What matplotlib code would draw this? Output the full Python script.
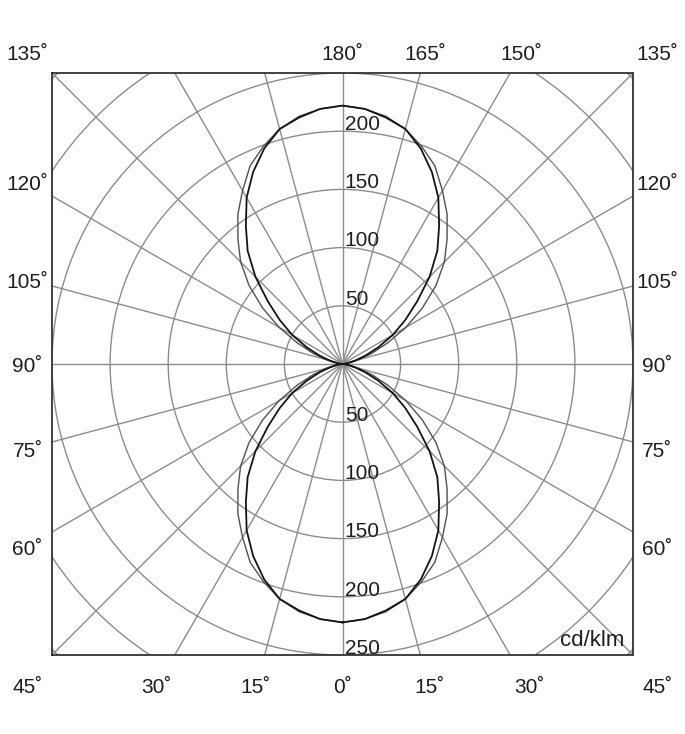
"""Polar luminous intensity diagram (cd/klm), two C-planes, square frame."""
import numpy as np
import matplotlib
matplotlib.use("Agg")
import matplotlib.pyplot as plt
from matplotlib.patches import Circle

plt.rcParams["font.family"] = ["Liberation Sans", "DejaVu Sans"]

# %% data ---------------------------------------------------------------------
# gamma angle (deg, 0 = straight down, 180 = straight up)
gamma = list(range(0, 185, 5))

# wider curve (thin grey line)
i_wide = [222, 220, 216, 209, 199, 188, 172, 157, 140, 124, 105, 84, 63, 43, 27, 15, 7, 2, 0,
          2, 7, 15, 27, 43, 63, 84, 105, 124, 140, 157, 172, 188, 199, 209, 216, 220, 222]
# narrower curve (dark line)
i_narrow = [222, 220, 215, 209, 197, 182, 165, 145, 127, 106, 84, 66, 50, 34, 21, 11, 5, 1.5, 0,
            1.5, 5, 11, 21, 34, 50, 66, 84, 106, 127, 145, 165, 182, 197, 209, 215, 220, 222]

ring_values = [50, 100, 150, 200, 250, 300, 350]
upper_ring_labels = [50, 100, 150, 200]
lower_ring_labels = [50, 100, 150, 200, 250]

spoke_angles = list(range(0, 360, 15))

top_labels = ["135˚", "180˚", "165˚", "150˚", "135˚"]
top_angles = [-135, 180, 165, 150, 135]
side_labels = ["120˚", "105˚", "90˚", "75˚", "60˚"]
side_angles = [120, 105, 90, 75, 60]
bottom_labels = ["45˚", "30˚", "15˚", "0˚", "15˚", "30˚", "45˚"]
bottom_angles = [-45, -30, -15, 0, 15, 30, 45]

unit_label = "cd/klm"

GRID = "#8c8c8c"
INK = "#1e1e1e"


def to_xy(g_deg, r, side=1):
    g = np.radians(np.asarray(g_deg, dtype=float))
    r = np.asarray(r, dtype=float)
    return side * r * np.sin(g), -r * np.cos(g)


# %% figure -------------------------------------------------------------------
fig = plt.figure(figsize=(6.85, 7.34), dpi=100)
ax = fig.add_axes([52 / 685, 79 / 734, 581 / 685, 582 / 734])
ax.set_xlim(-250, 250)
ax.set_ylim(-250, 250)
ax.set_xticks([])
ax.set_yticks([])
for s in ax.spines.values():
    s.set_color("#333333")
    s.set_linewidth(1.3)

# grid rings + spokes
for r in ring_values:
    ax.add_patch(Circle((0, 0), r, fill=False, ec=GRID, lw=1.0, zorder=1))
for a in spoke_angles:
    x, y = to_xy(a, 500)
    ax.plot([0, x], [0, y], color=GRID, lw=1.0, zorder=1)

# intensity curves, both halves of each plane
for vals, col, lw in [(i_wide, "#505050", 1.0), (i_narrow, "#151515", 1.3)]:
    xr_, yr_ = to_xy(gamma, vals, 1)
    xl_, yl_ = to_xy(gamma[::-1], vals[::-1], -1)
    ax.plot(np.r_[xr_, xl_], np.r_[yr_, yl_], color=col, lw=lw, zorder=3,
            solid_joinstyle="round")

# ring value labels
for r in upper_ring_labels:
    ax.text(2, r + 1, str(r), ha="left", va="baseline", fontsize=15, color=INK, zorder=4)
for r in lower_ring_labels:
    ax.text(2, -r + 1, str(r), ha="left", va="baseline", fontsize=15, color=INK,
            zorder=4, clip_on=False)

ax.text(243, -242, unit_label, ha="right", va="baseline", fontsize=16, color=INK, zorder=4)

# angle labels outside the frame
L_SIDE, L_TOP, L_BOT, DY = 271, 266, -278, -2.5
for lab, a in zip(top_labels, top_angles):
    if abs(a) == 135:
        x = L_SIDE * np.sign(a)
    elif abs(a) == 180:
        x = 0
    else:
        x = L_TOP * np.tan(np.radians(180 - abs(a))) * np.sign(a)
    ax.text(x, L_TOP, lab, ha="center", va="center", fontsize=15, color=INK, clip_on=False)
for lab, a in zip(side_labels, side_angles):
    y = (-L_SIDE / np.tan(np.radians(a)) if a != 90 else 0) + DY
    for sgn in (-1, 1):
        ax.text(sgn * L_SIDE, y, lab, ha="center", va="center", fontsize=15, color=INK,
                clip_on=False)
for lab, a in zip(bottom_labels, bottom_angles):
    x = L_SIDE * np.sign(a) if abs(a) == 45 else -L_BOT * np.tan(np.radians(a))
    ax.text(x, L_BOT, lab, ha="center", va="center", fontsize=15, color=INK, clip_on=False)

fig.savefig("out.png", dpi=100)
